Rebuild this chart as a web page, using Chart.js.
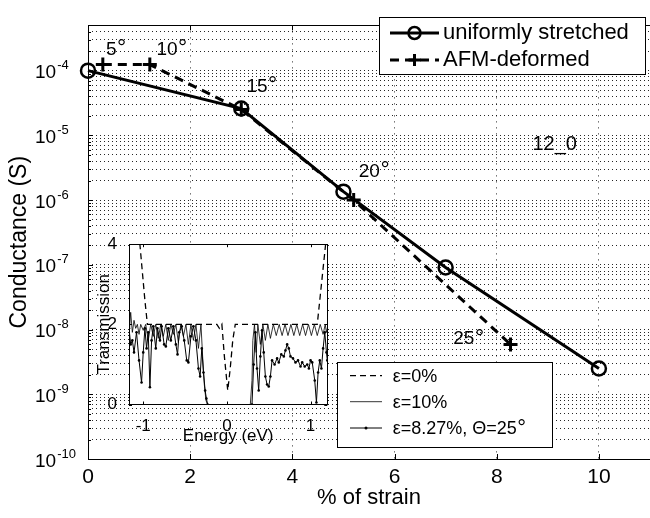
<!DOCTYPE html>
<html>
<head>
<meta charset="utf-8">
<script src="https://cdn.jsdelivr.net/npm/chart.js@4.4.1/dist/chart.umd.min.js"></script>
<style>
html,body{margin:0;padding:0;background:#fff;overflow:hidden}
#wrap{position:relative;width:650px;height:518px;overflow:hidden;background:#fff}
#main{position:absolute;left:0;top:0}
#inset{position:absolute;left:90px;top:230px}
</style>
</head>
<body>
<div id="wrap">
<canvas id="main" width="660" height="518"></canvas>
<canvas id="inset" width="470" height="222"></canvas>
</div>
<script>
// ---------- main chart data ----------
const seriesNames = ['uniformly stretched', 'AFM-deformed'];
const strainUniform = [0, 3, 5, 7, 10];
const conductanceUniform = [1.0e-4, 2.6e-5, 1.35e-6, 9.1e-8, 2.5e-9];
const strainAFM = [0.29, 1.21, 3.0, 5.2, 8.27];
const conductanceAFM = [1.24e-4, 1.24e-4, 2.5e-5, 1.0e-6, 5.9e-9];
const xTickValues = [0, 2, 4, 6, 8, 10];
const yDecadeExponents = [-10, -9, -8, -7, -6, -5, -4];
const annotationTexts = ['5°', '10°', '15°', '20°', '25°', '12_0'];
const annotationStrain = [0.35, 1.34, 3.1, 5.3, 7.15, 8.7];
const annotationConductance = [1.74e-4, 1.74e-4, 4.7e-5, 2.3e-6, 5.9e-9, 5.9e-6];

// ---------- inset data ----------
const insetNames = ['ε=0%', 'ε=10%', 'ε=8.27%, Θ=25°'];
const insetXTicks = [-1, 0, 1];
const insetYTicks = [0, 2, 4];
const energy0 = [-1.17, -1.04, -1.01, -0.98, -0.95, -0.5, -0.12, -0.09, -0.06, -0.03, 0.01, 0.04, 0.07, 0.10, 0.5, 1.0, 1.08, 1.13, 1.18, 1.2];
const trans0  = [4, 4, 3.3, 2.6, 2.0, 2.0, 2.0, 1.9, 2.0, 1.2, 0.35, 0.9, 1.6, 2.0, 2.0, 2.0, 2.0, 3.0, 4, 4];
const energy10 = [-1.17,-1.15,-1.13,-1.11,-1.09,-1.07,-1.05,-1.03,-1.0,-0.97,-0.94,-0.91,-0.88,-0.85,-0.82,-0.79,-0.76,-0.73,-0.70,-0.67,-0.64,-0.61,-0.58,-0.55,-0.52,-0.49,-0.46,-0.43,-0.40,-0.37,-0.34,-0.31,-0.29,-0.27,-0.25,-0.23,0.28,0.30,0.31,0.33,0.35,0.37,0.40,0.43,0.46,0.49,0.52,0.555,0.59,0.625,0.66,0.695,0.73,0.765,0.80,0.835,0.87,0.905,0.94,0.975,1.01,1.045,1.08,1.115,1.15,1.175,1.19,1.2];
const trans10  = [1.7,2.3,1.8,2.1,1.9,2.0,1.75,2.0,1.85,2.0,1.6,2.0,1.7,2.0,1.65,2.0,1.7,2.0,1.6,2.0,1.75,2.0,1.55,2.0,1.7,2.0,1.5,2.0,1.6,2.0,1.4,2.0,1.2,0.5,0.1,0,0,0.6,1.6,2.0,1.3,2.0,1.5,2.0,1.6,2.0,1.65,2.0,1.72,2.0,1.72,2.0,1.72,2.0,1.72,2.0,1.72,2.0,1.72,2.0,1.72,2.0,1.72,2.0,1.75,2.0,1.8,1.9];
const energy827 = [-1.17,-1.15,-1.13,-1.11,-1.08,-1.05,-1.02,-1.0,-0.98,-0.96,-0.94,-0.92,-0.90,-0.88,-0.85,-0.83,-0.80,-0.78,-0.75,-0.73,-0.70,-0.67,-0.64,-0.61,-0.59,-0.57,-0.54,-0.51,-0.48,-0.46,-0.43,-0.40,-0.37,-0.34,-0.32,-0.30,-0.28,-0.26,-0.245,-0.23,0.30,0.32,0.34,0.36,0.38,0.40,0.42,0.44,0.46,0.48,0.50,0.52,0.54,0.57,0.60,0.62,0.65,0.68,0.70,0.72,0.74,0.76,0.79,0.82,0.85,0.88,0.90,0.93,0.96,0.98,1.0,1.02,1.05,1.07,1.09,1.11,1.13,1.15,1.17,1.19,1.2];
const trans827  = [1.9,1.5,1.6,1.3,1.8,1.1,0.55,1.3,1.9,1.4,1.8,0.43,1.6,1.95,1.4,1.9,1.6,1.95,1.5,1.45,1.9,1.6,1.95,1.5,1.25,1.8,1.95,1.6,1.1,1.05,1.7,1.95,1.6,0.9,0.7,1.4,0.8,0.35,0.15,0,0,1.0,1.8,0.9,0.35,1.2,1.85,1.3,0.7,0.5,0.45,0.7,1.1,1.0,1.15,1.05,1.25,1.2,1.35,1.5,1.4,1.2,1.15,1.05,1.1,0.95,1.05,0.95,1.0,0.9,1.1,1.05,0.6,0.05,0.8,1.1,0.9,1.4,1.8,1.3,1.1];

// ---------- helpers ----------
const FONT = "'Liberation Sans', Arial, Helvetica, sans-serif";
Chart.defaults.font.family = FONT;
Chart.defaults.color = '#000';

function pairs(xs, ys) {
  const n = Math.min(xs.length, ys.length);
  const out = [];
  for (let i = 0; i < n; i++) out.push({x: xs[i], y: ys[i]});
  return out;
}
function isDecade(v) { const l = Math.log10(v); return Math.abs(l - Math.round(l)) < 1e-6; }

function logTickValues() {
  const vals = [];
  const top = 5e-4;
  for (const e of yDecadeExponents) {
    for (let m = 1; m <= 9; m++) {
      const v = Number((m * Math.pow(10, e)).toPrecision(3));
      if (v <= top * 1.0001) vals.push(v);
    }
  }
  if (vals[vals.length - 1] < top) vals.push(top);
  return vals;
}

function strokeLine(ctx, x1, y1, x2, y2) {
  ctx.beginPath(); ctx.moveTo(x1, y1); ctx.lineTo(x2, y2); ctx.stroke();
}
// draw text at baseline; a trailing degree sign is drawn a bit larger, like a superscript "o"
function drawDegText(ctx, text, x, baseline, size) {
  ctx.textAlign = 'left';
  ctx.textBaseline = 'alphabetic';
  let main = text, deg = '';
  if (text.endsWith('°')) { main = text.slice(0, -1); deg = '°'; }
  ctx.font = size + 'px ' + FONT;
  ctx.fillText(main, x, baseline);
  if (deg) {
    const w = ctx.measureText(main).width;
    ctx.font = Math.round(size * 1.2) + 'px ' + FONT;
    ctx.fillText(deg, x + w + 0.5, baseline + size * 0.02);
  }
}
function drawMarker(ctx, style, x, y, r, w) {
  ctx.save();
  ctx.setLineDash([]);
  ctx.lineWidth = w; ctx.strokeStyle = '#000';
  if (style === 'circle') {
    ctx.beginPath(); ctx.arc(x, y, r, 0, Math.PI * 2); ctx.stroke();
  } else if (style === 'cross') {
    strokeLine(ctx, x - r, y, x + r, y);
    strokeLine(ctx, x, y - r, x, y + r);
  } else if (style === 'dot') {
    ctx.fillStyle = '#000';
    ctx.beginPath(); ctx.arc(x, y, r, 0, Math.PI * 2); ctx.fill();
  }
  ctx.restore();
}

// ---------- main chart plugin ----------
const mainDecor = {
  id: 'mainDecor',
  afterDatasetsDraw(chart) {
    const {ctx, chartArea: a, scales} = chart;
    ctx.save();
    ctx.strokeStyle = '#000';
    ctx.lineWidth = 1;
    ctx.setLineDash([]);
    ctx.strokeRect(Math.round(a.left) + 0.5, Math.round(a.top) + 0.5, Math.round(a.right - a.left), Math.round(a.bottom - a.top));
    xTickValues.forEach(v => {
      const px = Math.round(scales.x.getPixelForValue(v)) + 0.5;
      strokeLine(ctx, px, a.bottom, px, a.bottom - 5);
      strokeLine(ctx, px, a.top, px, a.top + 5);
    });
    scales.y.ticks.forEach(t => {
      const py = Math.round(scales.y.getPixelForValue(t.value)) + 0.5;
      const len = isDecade(t.value) ? 5 : 3;
      strokeLine(ctx, a.left, py, a.left + len, py);
    });
    ctx.restore();
  },
  afterDraw(chart) {
    const {ctx, scales} = chart;
    ctx.save();
    ctx.fillStyle = '#000';
    // y tick labels: 10 with raised exponent
    yDecadeExponents.forEach(e => {
      const py = scales.y.getPixelForValue(Math.pow(10, e));
      ctx.textAlign = 'left';
      ctx.textBaseline = 'alphabetic';
      ctx.font = '19px ' + FONT;
      ctx.fillText('10', 35, py + 7.5);
      const w = ctx.measureText('10').width;
      ctx.font = '13px ' + FONT;
      ctx.fillText(String(e), 35 + w + 1, py - 1.5);
    });
    // annotations
    annotationTexts.forEach((t, i) => {
      const px = scales.x.getPixelForValue(annotationStrain[i]);
      const py = scales.y.getPixelForValue(annotationConductance[i]);
      drawDegText(ctx, t, px, py, t === '12_0' ? 20 : 19);
    });
    // legend
    const lx = 379, ly = 17, lw = 266, lh = 57;
    ctx.fillStyle = '#fff';
    ctx.fillRect(lx, ly, lw, lh);
    ctx.strokeStyle = '#000';
    ctx.lineWidth = 1;
    ctx.strokeRect(lx + 0.5, ly + 0.5, lw, lh);
    const rows = [33, 60];
    chart.data.datasets.forEach((ds, i) => {
      const y = rows[i];
      ctx.save();
      ctx.strokeStyle = '#000';
      ctx.lineWidth = ds.borderWidth;
      ctx.setLineDash(ds.borderDash || []);
      strokeLine(ctx, 390, y, 439, y);
      ctx.restore();
      drawMarker(ctx, ds.pointStyle, 414.5, y, 6, ds.pointBorderWidth);
      ctx.fillStyle = '#000';
      ctx.font = '22px ' + FONT;
      ctx.textAlign = 'left';
      ctx.textBaseline = 'middle';
      ctx.fillText(ds.label, 443, y);
    });
    ctx.restore();
  }
};

const mainChart = new Chart(document.getElementById('main'), {
  type: 'line',
  data: {
    datasets: [
      {
        label: seriesNames[0],
        data: pairs(strainUniform, conductanceUniform),
        borderColor: '#000', borderWidth: 3, tension: 0, fill: false, clip: false,
        pointStyle: 'circle', pointRadius: 7, pointBorderWidth: 2.5,
        pointBorderColor: '#000', pointBackgroundColor: 'rgba(0,0,0,0)'
      },
      {
        label: seriesNames[1],
        data: pairs(strainAFM, conductanceAFM),
        borderColor: '#000', borderWidth: 3, borderDash: [9, 6], tension: 0, fill: false, clip: false,
        pointStyle: 'cross', pointRadius: 7, pointBorderWidth: 3,
        pointBorderColor: '#000', pointBackgroundColor: '#000'
      }
    ]
  },
  options: {
    responsive: false,
    animation: false,
    events: [],
    layout: {padding: {top: 12, right: 7, left: 0, bottom: 0}},
    plugins: {legend: {display: false}, tooltip: {enabled: false}},
    scales: {
      x: {
        type: 'linear', min: 0, max: 11,
        afterBuildTicks: s => { s.ticks = xTickValues.map(v => ({value: v})); },
        afterFit: s => { s.height = 59; },
        ticks: {font: {size: 21}, padding: 6, color: '#000', autoSkip: false, maxRotation: 0},
        grid: {color: 'rgba(0,0,0,0.85)', lineWidth: 1, drawTicks: false},
        border: {display: false, dash: [1, 5]},
        title: {display: true, text: '% of strain', font: {size: 22}, color: '#000', padding: {top: 0, bottom: 7}}
      },
      y: {
        type: 'logarithmic', min: 1e-10, max: 5e-4,
        afterBuildTicks: s => { s.ticks = logTickValues().map(v => ({value: v})); },
        afterFit: s => { s.width = 88; },
        ticks: {font: {size: 19}, padding: 14, color: '#000', autoSkip: false, callback: () => ''},
        grid: {color: 'rgba(0,0,0,0.85)', lineWidth: 1, drawTicks: false},
        border: {display: false, dash: [1, 3]},
        title: {display: true, text: 'Conductance (S)', font: {size: 23}, color: '#000', padding: {top: 6, bottom: 0}}
      }
    }
  },
  plugins: [mainDecor]
});

// ---------- inset plugin ----------
const insetDecor = {
  id: 'insetDecor',
  beforeDatasetsDraw(chart) {
    const {ctx, chartArea: a} = chart;
    ctx.save();
    ctx.fillStyle = '#fff';
    ctx.fillRect(a.left, a.top, a.right - a.left, a.bottom - a.top);
    ctx.restore();
  },
  afterDatasetsDraw(chart) {
    const {ctx, chartArea: a, scales} = chart;
    ctx.save();
    ctx.strokeStyle = '#000';
    ctx.lineWidth = 1;
    ctx.setLineDash([]);
    ctx.strokeRect(Math.round(a.left) + 0.5, Math.round(a.top) + 0.5, Math.round(a.right - a.left), Math.round(a.bottom - a.top));
    insetXTicks.forEach(v => {
      const px = Math.round(scales.x.getPixelForValue(v)) + 0.5;
      strokeLine(ctx, px, a.bottom, px, a.bottom - 3);
      strokeLine(ctx, px, a.top, px, a.top + 3);
    });
    insetYTicks.forEach(v => {
      const py = Math.round(scales.y.getPixelForValue(v)) + 0.5;
      strokeLine(ctx, a.left, py, a.left + 3, py);
      strokeLine(ctx, a.right, py, a.right - 3, py);
    });
    ctx.restore();
  },
  afterDraw(chart) {
    const {ctx} = chart;
    ctx.save();
    const lx = 247, ly = 132, lw = 215, lh = 85;
    ctx.fillStyle = '#fff';
    ctx.fillRect(lx, ly, lw, lh);
    ctx.strokeStyle = '#000';
    ctx.lineWidth = 1;
    ctx.strokeRect(lx + 0.5, ly + 0.5, lw, lh);
    const rows = [145.7, 171.7, 198];
    chart.data.datasets.forEach((ds, i) => {
      const y = rows[i];
      ctx.save();
      ctx.strokeStyle = '#000';
      ctx.lineWidth = ds.borderWidth;
      ctx.setLineDash(ds.borderDash || []);
      strokeLine(ctx, 260, y, 292, y);
      ctx.restore();
      if (ds.pointRadius > 0) drawMarker(ctx, 'dot', 276, y, 1.5, 1);
      ctx.fillStyle = '#000';
      drawDegText(ctx, ds.label, 302.7, y + 6.3, 18);
    });
    ctx.restore();
  }
};

const insetChart = new Chart(document.getElementById('inset'), {
  type: 'line',
  data: {
    datasets: [
      {label: insetNames[0], data: pairs(energy0, trans0), borderColor: '#000', borderWidth: 1.3, borderDash: [6, 4], pointRadius: 0, tension: 0, fill: false},
      {label: insetNames[1], data: pairs(energy10, trans10), borderColor: '#000', borderWidth: 0.8, pointRadius: 0, tension: 0, fill: false},
      {label: insetNames[2], data: pairs(energy827, trans827), borderColor: '#000', borderWidth: 1, pointRadius: 1.3, pointBorderWidth: 0, pointBackgroundColor: '#000', pointStyle: 'circle', tension: 0, fill: false}
    ]
  },
  options: {
    responsive: false,
    animation: false,
    events: [],
    layout: {padding: {top: 9, right: 232.7, left: 0, bottom: 0}},
    plugins: {legend: {display: false}, tooltip: {enabled: false}},
    scales: {
      x: {
        type: 'linear', min: -1.17, max: 1.2,
        afterBuildTicks: s => { s.ticks = insetXTicks.map(v => ({value: v})); },
        afterFit: s => { s.height = 47.5; },
        ticks: {font: {size: 17}, padding: 4, color: '#000', autoSkip: false, maxRotation: 0},
        grid: {display: false},
        border: {display: false},
        title: {display: true, text: 'Energy (eV)', font: {size: 17}, color: '#000', padding: {top: 0, bottom: 5}}
      },
      y: {
        type: 'linear', min: 0, max: 4,
        afterBuildTicks: s => { s.ticks = insetYTicks.map(v => ({value: v})); },
        afterFit: s => { s.width = 39; },
        ticks: {font: {size: 17}, padding: 4, color: '#000', autoSkip: false},
        grid: {display: false},
        border: {display: false},
        title: {display: true, text: 'Transmission', font: {size: 17}, color: '#000', padding: {top: 4, bottom: 0}}
      }
    }
  },
  plugins: [insetDecor]
});
</script>
</body>
</html>
